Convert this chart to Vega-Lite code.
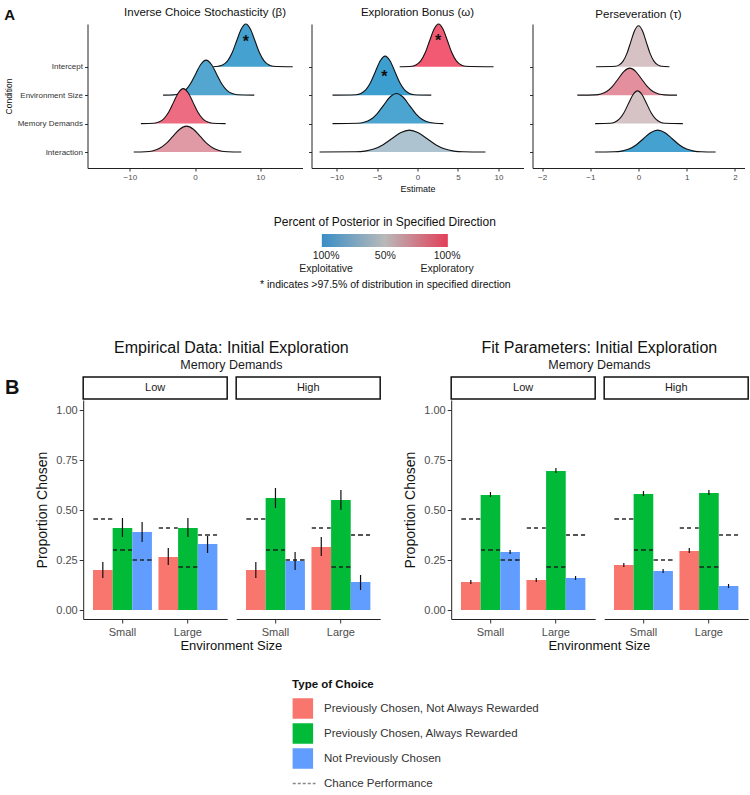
{
"$schema":"https://vega.github.io/schema/vega-lite/v6.json",
"padding":{"left":4,"top":7,"right":2,"bottom":2},
"config":{"font":"Liberation Sans","view":{"stroke":null},"axis":{"grid":false,"domainColor":"#222","tickColor":"#333"},"title":{"fontWeight":"normal","color":"#111"}},
"datasets":{
"ridges":[
{"p":"b","c":"I","d":-0.95,"x":2.8,"y":4},{"p":"b","c":"I","d":-0.95,"x":3.6,"y":4.017},{"p":"b","c":"I","d":-0.95,"x":4.3,"y":4.066},{"p":"b","c":"I","d":-0.95,"x":5.0,"y":4.203},{"p":"b","c":"I","d":-0.95,"x":5.7,"y":4.487},{"p":"b","c":"I","d":-0.95,"x":6.4,"y":4.91},{"p":"b","c":"I","d":-0.95,"x":7.1,"y":5.324},{"p":"b","c":"I","d":-0.95,"x":7.8,"y":5.5},{"p":"b","c":"I","d":-0.95,"x":8.5,"y":5.324},{"p":"b","c":"I","d":-0.95,"x":9.2,"y":4.91},{"p":"b","c":"I","d":-0.95,"x":9.9,"y":4.487},{"p":"b","c":"I","d":-0.95,"x":10.6,"y":4.203},{"p":"b","c":"I","d":-0.95,"x":11.3,"y":4.066},{"p":"b","c":"I","d":-0.95,"x":12.0,"y":4.017},{"p":"b","c":"I","d":-0.95,"x":15.0,"y":4},
{"p":"b","c":"E","d":-0.85,"x":-4.9,"y":3},{"p":"b","c":"E","d":-0.85,"x":-3.1,"y":3.014},{"p":"b","c":"E","d":-0.85,"x":-2.3,"y":3.054},{"p":"b","c":"E","d":-0.85,"x":-1.5,"y":3.166},{"p":"b","c":"E","d":-0.85,"x":-0.7,"y":3.4},{"p":"b","c":"E","d":-0.85,"x":0.1,"y":3.746},{"p":"b","c":"E","d":-0.85,"x":0.9,"y":4.086},{"p":"b","c":"E","d":-0.85,"x":1.7,"y":4.23},{"p":"b","c":"E","d":-0.85,"x":2.5,"y":4.086},{"p":"b","c":"E","d":-0.85,"x":3.3,"y":3.746},{"p":"b","c":"E","d":-0.85,"x":4.1,"y":3.4},{"p":"b","c":"E","d":-0.85,"x":4.9,"y":3.166},{"p":"b","c":"E","d":-0.85,"x":5.7,"y":3.054},{"p":"b","c":"E","d":-0.85,"x":6.5,"y":3.014},{"p":"b","c":"E","d":-0.85,"x":9.1,"y":3},
{"p":"b","c":"M","d":0.85,"x":-8.3,"y":2},{"p":"b","c":"M","d":0.85,"x":-6.3,"y":2.014},{"p":"b","c":"M","d":0.85,"x":-5.55,"y":2.054},{"p":"b","c":"M","d":0.85,"x":-4.8,"y":2.166},{"p":"b","c":"M","d":0.85,"x":-4.05,"y":2.4},{"p":"b","c":"M","d":0.85,"x":-3.3,"y":2.746},{"p":"b","c":"M","d":0.85,"x":-2.55,"y":3.086},{"p":"b","c":"M","d":0.85,"x":-1.8,"y":3.23},{"p":"b","c":"M","d":0.85,"x":-1.05,"y":3.086},{"p":"b","c":"M","d":0.85,"x":-0.3,"y":2.746},{"p":"b","c":"M","d":0.85,"x":0.45,"y":2.4},{"p":"b","c":"M","d":0.85,"x":1.2,"y":2.166},{"p":"b","c":"M","d":0.85,"x":1.95,"y":2.054},{"p":"b","c":"M","d":0.85,"x":2.7,"y":2.014},{"p":"b","c":"M","d":0.85,"x":4.7,"y":2},
{"p":"b","c":"X","d":0.45,"x":-9.4,"y":1},{"p":"b","c":"X","d":0.45,"x":-7.6,"y":1.01},{"p":"b","c":"X","d":0.45,"x":-6.55,"y":1.04},{"p":"b","c":"X","d":0.45,"x":-5.5,"y":1.123},{"p":"b","c":"X","d":0.45,"x":-4.45,"y":1.295},{"p":"b","c":"X","d":0.45,"x":-3.4,"y":1.552},{"p":"b","c":"X","d":0.45,"x":-2.35,"y":1.803},{"p":"b","c":"X","d":0.45,"x":-1.3,"y":1.91},{"p":"b","c":"X","d":0.45,"x":-0.25,"y":1.803},{"p":"b","c":"X","d":0.45,"x":0.8,"y":1.552},{"p":"b","c":"X","d":0.45,"x":1.85,"y":1.295},{"p":"b","c":"X","d":0.45,"x":2.9,"y":1.123},{"p":"b","c":"X","d":0.45,"x":3.95,"y":1.04},{"p":"b","c":"X","d":0.45,"x":5.0,"y":1.01},{"p":"b","c":"X","d":0.45,"x":7.1,"y":1},
{"p":"o","c":"I","d":1,"x":-2.2,"y":4},{"p":"o","c":"I","d":1,"x":-0.7,"y":4.017},{"p":"o","c":"I","d":1,"x":-0.15,"y":4.066},{"p":"o","c":"I","d":1,"x":0.4,"y":4.203},{"p":"o","c":"I","d":1,"x":0.95,"y":4.487},{"p":"o","c":"I","d":1,"x":1.5,"y":4.91},{"p":"o","c":"I","d":1,"x":2.05,"y":5.324},{"p":"o","c":"I","d":1,"x":2.6,"y":5.5},{"p":"o","c":"I","d":1,"x":3.15,"y":5.324},{"p":"o","c":"I","d":1,"x":3.7,"y":4.91},{"p":"o","c":"I","d":1,"x":4.25,"y":4.487},{"p":"o","c":"I","d":1,"x":4.8,"y":4.203},{"p":"o","c":"I","d":1,"x":5.35,"y":4.066},{"p":"o","c":"I","d":1,"x":5.9,"y":4.017},{"p":"o","c":"I","d":1,"x":9.4,"y":4},
{"p":"o","c":"E","d":-1,"x":-10.5,"y":3},{"p":"o","c":"E","d":-1,"x":-7.6,"y":3.015},{"p":"o","c":"E","d":-1,"x":-7.0,"y":3.06},{"p":"o","c":"E","d":-1,"x":-6.4,"y":3.185},{"p":"o","c":"E","d":-1,"x":-5.8,"y":3.445},{"p":"o","c":"E","d":-1,"x":-5.2,"y":3.831},{"p":"o","c":"E","d":-1,"x":-4.6,"y":4.209},{"p":"o","c":"E","d":-1,"x":-4.0,"y":4.37},{"p":"o","c":"E","d":-1,"x":-3.4,"y":4.209},{"p":"o","c":"E","d":-1,"x":-2.8,"y":3.831},{"p":"o","c":"E","d":-1,"x":-2.2,"y":3.445},{"p":"o","c":"E","d":-1,"x":-1.6,"y":3.185},{"p":"o","c":"E","d":-1,"x":-1.0,"y":3.06},{"p":"o","c":"E","d":-1,"x":-0.4,"y":3.015},{"p":"o","c":"E","d":-1,"x":1.7,"y":3},
{"p":"o","c":"M","d":-0.9,"x":-10.5,"y":2},{"p":"o","c":"M","d":-0.9,"x":-7.4,"y":2.012},{"p":"o","c":"M","d":-0.9,"x":-6.6,"y":2.047},{"p":"o","c":"M","d":-0.9,"x":-5.8,"y":2.143},{"p":"o","c":"M","d":-0.9,"x":-5.0,"y":2.344},{"p":"o","c":"M","d":-0.9,"x":-4.2,"y":2.643},{"p":"o","c":"M","d":-0.9,"x":-3.4,"y":2.935},{"p":"o","c":"M","d":-0.9,"x":-2.6,"y":3.06},{"p":"o","c":"M","d":-0.9,"x":-1.8,"y":2.935},{"p":"o","c":"M","d":-0.9,"x":-1.0,"y":2.643},{"p":"o","c":"M","d":-0.9,"x":-0.2,"y":2.344},{"p":"o","c":"M","d":-0.9,"x":0.6,"y":2.143},{"p":"o","c":"M","d":-0.9,"x":1.4,"y":2.047},{"p":"o","c":"M","d":-0.9,"x":2.2,"y":2.012},{"p":"o","c":"M","d":-0.9,"x":3.2,"y":2},
{"p":"o","c":"X","d":-0.25,"x":-12.1,"y":1},{"p":"o","c":"X","d":-0.25,"x":-7.6,"y":1.0085},{"p":"o","c":"X","d":-0.25,"x":-6.5,"y":1.034},{"p":"o","c":"X","d":-0.25,"x":-5.4,"y":1.104},{"p":"o","c":"X","d":-0.25,"x":-4.3,"y":1.25},{"p":"o","c":"X","d":-0.25,"x":-3.2,"y":1.467},{"p":"o","c":"X","d":-0.25,"x":-2.1,"y":1.68},{"p":"o","c":"X","d":-0.25,"x":-1.0,"y":1.77},{"p":"o","c":"X","d":-0.25,"x":0.1,"y":1.68},{"p":"o","c":"X","d":-0.25,"x":1.2,"y":1.467},{"p":"o","c":"X","d":-0.25,"x":2.3,"y":1.25},{"p":"o","c":"X","d":-0.25,"x":3.4,"y":1.104},{"p":"o","c":"X","d":-0.25,"x":4.5,"y":1.034},{"p":"o","c":"X","d":-0.25,"x":5.6,"y":1.0085},{"p":"o","c":"X","d":-0.25,"x":8.4,"y":1},
{"p":"t","c":"I","d":0.12,"x":-0.88,"y":4},{"p":"t","c":"I","d":0.12,"x":-0.48,"y":4.016},{"p":"t","c":"I","d":0.12,"x":-0.4,"y":4.063},{"p":"t","c":"I","d":0.12,"x":-0.32,"y":4.195},{"p":"t","c":"I","d":0.12,"x":-0.24,"y":4.468},{"p":"t","c":"I","d":0.12,"x":-0.16,"y":4.873},{"p":"t","c":"I","d":0.12,"x":-0.08,"y":5.271},{"p":"t","c":"I","d":0.12,"x":0,"y":5.44},{"p":"t","c":"I","d":0.12,"x":0.08,"y":5.271},{"p":"t","c":"I","d":0.12,"x":0.16,"y":4.873},{"p":"t","c":"I","d":0.12,"x":0.24,"y":4.468},{"p":"t","c":"I","d":0.12,"x":0.32,"y":4.195},{"p":"t","c":"I","d":0.12,"x":0.4,"y":4.063},{"p":"t","c":"I","d":0.12,"x":0.48,"y":4.016},{"p":"t","c":"I","d":0.12,"x":0.64,"y":4},
{"p":"t","c":"E","d":0.55,"x":-1.27,"y":3},{"p":"t","c":"E","d":0.55,"x":-0.9,"y":3.0105},{"p":"t","c":"E","d":0.55,"x":-0.78,"y":3.042},{"p":"t","c":"E","d":0.55,"x":-0.66,"y":3.129},{"p":"t","c":"E","d":0.55,"x":-0.54,"y":3.308},{"p":"t","c":"E","d":0.55,"x":-0.42,"y":3.576},{"p":"t","c":"E","d":0.55,"x":-0.3,"y":3.838},{"p":"t","c":"E","d":0.55,"x":-0.18,"y":3.95},{"p":"t","c":"E","d":0.55,"x":-0.06,"y":3.838},{"p":"t","c":"E","d":0.55,"x":0.06,"y":3.576},{"p":"t","c":"E","d":0.55,"x":0.18,"y":3.308},{"p":"t","c":"E","d":0.55,"x":0.3,"y":3.129},{"p":"t","c":"E","d":0.55,"x":0.42,"y":3.042},{"p":"t","c":"E","d":0.55,"x":0.54,"y":3.0105},{"p":"t","c":"E","d":0.55,"x":0.8,"y":3},
{"p":"t","c":"M","d":0.1,"x":-0.9,"y":2},{"p":"t","c":"M","d":0.1,"x":-0.59,"y":2.013},{"p":"t","c":"M","d":0.1,"x":-0.495,"y":2.05},{"p":"t","c":"M","d":0.1,"x":-0.4,"y":2.156},{"p":"t","c":"M","d":0.1,"x":-0.305,"y":2.373},{"p":"t","c":"M","d":0.1,"x":-0.21,"y":2.697},{"p":"t","c":"M","d":0.1,"x":-0.115,"y":3.015},{"p":"t","c":"M","d":0.1,"x":-0.02,"y":3.15},{"p":"t","c":"M","d":0.1,"x":0.075,"y":3.015},{"p":"t","c":"M","d":0.1,"x":0.17,"y":2.697},{"p":"t","c":"M","d":0.1,"x":0.265,"y":2.373},{"p":"t","c":"M","d":0.1,"x":0.36,"y":2.156},{"p":"t","c":"M","d":0.1,"x":0.455,"y":2.05},{"p":"t","c":"M","d":0.1,"x":0.55,"y":2.013},{"p":"t","c":"M","d":0.1,"x":0.92,"y":2},
{"p":"t","c":"X","d":-0.95,"x":-0.9,"y":1},{"p":"t","c":"X","d":-0.95,"x":-0.5,"y":1.0085},{"p":"t","c":"X","d":-0.95,"x":-0.35,"y":1.034},{"p":"t","c":"X","d":-0.95,"x":-0.2,"y":1.104},{"p":"t","c":"X","d":-0.95,"x":-0.05,"y":1.25},{"p":"t","c":"X","d":-0.95,"x":0.1,"y":1.467},{"p":"t","c":"X","d":-0.95,"x":0.25,"y":1.68},{"p":"t","c":"X","d":-0.95,"x":0.4,"y":1.77},{"p":"t","c":"X","d":-0.95,"x":0.55,"y":1.68},{"p":"t","c":"X","d":-0.95,"x":0.7,"y":1.467},{"p":"t","c":"X","d":-0.95,"x":0.85,"y":1.25},{"p":"t","c":"X","d":-0.95,"x":1.0,"y":1.104},{"p":"t","c":"X","d":-0.95,"x":1.15,"y":1.034},{"p":"t","c":"X","d":-0.95,"x":1.3,"y":1.0085},{"p":"t","c":"X","d":-0.95,"x":1.6,"y":1}
],
"stars":[{"p":"b","x":7.8,"y":5.02},{"p":"o","x":2.55,"y":5.03},{"p":"o","x":-4.1,"y":3.77}],
"bars":[
{"s":"emp","md":"Low","env":"Small","t":"PCNAR","v":0.20,"lo":0.16,"hi":0.24,"ch":0.455},
{"s":"emp","md":"Low","env":"Small","t":"PCAR","v":0.41,"lo":0.365,"hi":0.46,"ch":0.30},
{"s":"emp","md":"Low","env":"Small","t":"NPC","v":0.39,"lo":0.34,"hi":0.44,"ch":0.25},
{"s":"emp","md":"Low","env":"Large","t":"PCNAR","v":0.265,"lo":0.225,"hi":0.31,"ch":0.41},
{"s":"emp","md":"Low","env":"Large","t":"PCAR","v":0.41,"lo":0.365,"hi":0.46,"ch":0.215},
{"s":"emp","md":"Low","env":"Large","t":"NPC","v":0.33,"lo":0.285,"hi":0.37,"ch":0.375},
{"s":"emp","md":"High","env":"Small","t":"PCNAR","v":0.20,"lo":0.16,"hi":0.24,"ch":0.455},
{"s":"emp","md":"High","env":"Small","t":"PCAR","v":0.56,"lo":0.51,"hi":0.61,"ch":0.30},
{"s":"emp","md":"High","env":"Small","t":"NPC","v":0.245,"lo":0.20,"hi":0.29,"ch":0.25},
{"s":"emp","md":"High","env":"Large","t":"PCNAR","v":0.315,"lo":0.27,"hi":0.365,"ch":0.41},
{"s":"emp","md":"High","env":"Large","t":"PCAR","v":0.55,"lo":0.50,"hi":0.60,"ch":0.215},
{"s":"emp","md":"High","env":"Large","t":"NPC","v":0.14,"lo":0.10,"hi":0.175,"ch":0.375},
{"s":"fit","md":"Low","env":"Small","t":"PCNAR","v":0.14,"lo":0.13,"hi":0.15,"ch":0.455},
{"s":"fit","md":"Low","env":"Small","t":"PCAR","v":0.575,"lo":0.565,"hi":0.59,"ch":0.30},
{"s":"fit","md":"Low","env":"Small","t":"NPC","v":0.29,"lo":0.28,"hi":0.30,"ch":0.25},
{"s":"fit","md":"Low","env":"Large","t":"PCNAR","v":0.15,"lo":0.14,"hi":0.16,"ch":0.41},
{"s":"fit","md":"Low","env":"Large","t":"PCAR","v":0.695,"lo":0.685,"hi":0.71,"ch":0.215},
{"s":"fit","md":"Low","env":"Large","t":"NPC","v":0.16,"lo":0.15,"hi":0.17,"ch":0.375},
{"s":"fit","md":"High","env":"Small","t":"PCNAR","v":0.225,"lo":0.215,"hi":0.235,"ch":0.455},
{"s":"fit","md":"High","env":"Small","t":"PCAR","v":0.58,"lo":0.57,"hi":0.595,"ch":0.30},
{"s":"fit","md":"High","env":"Small","t":"NPC","v":0.195,"lo":0.185,"hi":0.205,"ch":0.25},
{"s":"fit","md":"High","env":"Large","t":"PCNAR","v":0.295,"lo":0.285,"hi":0.31,"ch":0.41},
{"s":"fit","md":"High","env":"Large","t":"PCAR","v":0.585,"lo":0.575,"hi":0.60,"ch":0.215},
{"s":"fit","md":"High","env":"Large","t":"NPC","v":0.12,"lo":0.11,"hi":0.13,"ch":0.375}
]
},
"spacing":49,
"center":true,
"vconcat":[
{
"title":{"text":"A","anchor":"start","fontSize":15,"fontWeight":"bold","offset":-16},
"spacing":23,
"center":true,
"vconcat":[
{"spacing":5,"hconcat":[
{"width":215,"height":144,
"title":{"text":"Inverse Choice Stochasticity (β)","frame":"group","dx":10,"fontSize":11.5,"offset":3},
"data":{"name":"ridges"},
"encoding":{
"x":{"field":"x","type":"quantitative","scale":{"domain":[-16.5,16.5],"nice":false,"zero":false},"axis":{"values":[-10,0,10],"title":null,"labelFontSize":8,"labelColor":"#4d4d4d","tickSize":3,"labelPadding":2}},
"y":{"field":"y","type":"quantitative","scale":{"domain":[0.44,5.5],"nice":false,"zero":false},"axis":{"values":[1,2,3,4],"labelExpr":"datum.value == 4 ? 'Intercept' : datum.value == 3 ? 'Environment  Size' : datum.value == 2 ? 'Memory Demands' : 'Interaction'","title":"Condition","titleFontSize":8.5,"titleFontWeight":"normal","titleColor":"#111","titlePadding":4,"labelFontSize":8,"labelColor":"#333","tickSize":3,"labelPadding":2}}
},
"layer":[
{"transform":[{"filter":"datum.p=='b'&&datum.c=='I'"}],"mark":{"type":"area","interpolate":"monotone","opacity":1},"encoding":{"y2":{"datum":4},"fill":{"field":"d","type":"quantitative","scale":{"domain":[-1,0,1],"range":["#3d9fd0","#d2cfcf","#f25a74"],"interpolate":"rgb"},"legend":null}}},
{"transform":[{"filter":"datum.p=='b'&&datum.c=='I'"}],"mark":{"type":"line","interpolate":"monotone","color":"#111","strokeWidth":1.1},"encoding":{}},
{"transform":[{"filter":"datum.p=='b'&&datum.c=='E'"}],"mark":{"type":"area","interpolate":"monotone","opacity":1},"encoding":{"y2":{"datum":3},"fill":{"field":"d","type":"quantitative","scale":{"domain":[-1,0,1],"range":["#3d9fd0","#d2cfcf","#f25a74"],"interpolate":"rgb"},"legend":null}}},
{"transform":[{"filter":"datum.p=='b'&&datum.c=='E'"}],"mark":{"type":"line","interpolate":"monotone","color":"#111","strokeWidth":1.1},"encoding":{}},
{"transform":[{"filter":"datum.p=='b'&&datum.c=='M'"}],"mark":{"type":"area","interpolate":"monotone","opacity":1},"encoding":{"y2":{"datum":2},"fill":{"field":"d","type":"quantitative","scale":{"domain":[-1,0,1],"range":["#3d9fd0","#d2cfcf","#f25a74"],"interpolate":"rgb"},"legend":null}}},
{"transform":[{"filter":"datum.p=='b'&&datum.c=='M'"}],"mark":{"type":"line","interpolate":"monotone","color":"#111","strokeWidth":1.1},"encoding":{}},
{"transform":[{"filter":"datum.p=='b'&&datum.c=='X'"}],"mark":{"type":"area","interpolate":"monotone","opacity":1},"encoding":{"y2":{"datum":1},"fill":{"field":"d","type":"quantitative","scale":{"domain":[-1,0,1],"range":["#3d9fd0","#d2cfcf","#f25a74"],"interpolate":"rgb"},"legend":null}}},
{"transform":[{"filter":"datum.p=='b'&&datum.c=='X'"}],"mark":{"type":"line","interpolate":"monotone","color":"#111","strokeWidth":1.1},"encoding":{}},
{"data":{"values":[{}]},"mark":{"type":"rule","color":"#111","strokeWidth":1.1},"encoding":{"x":{"datum":0},"y":{"datum":0.44},"y2":{"datum":5.5}}},
{"data":{"name":"stars"},"transform":[{"filter":"datum.p=='b'"}],"mark":{"type":"text","text":"*","fontSize":16,"fontWeight":"bold","color":"#111","baseline":"middle","dy":4},"encoding":{}}
]},
{"width":212,"height":144,
"title":{"text":"Exploration Bonus (ω)","frame":"group","fontSize":11.5,"offset":3},
"data":{"name":"ridges"},
"encoding":{
"x":{"field":"x","type":"quantitative","scale":{"domain":[-13.1,13.1],"nice":false,"zero":false},"axis":{"values":[-10,-5,0,5,10],"title":"Estimate","titleFontSize":9,"titleFontWeight":"normal","titleColor":"#111","titlePadding":3,"labelFontSize":8,"labelColor":"#4d4d4d","tickSize":3,"labelPadding":2}},
"y":{"field":"y","type":"quantitative","scale":{"domain":[0.44,5.5],"nice":false,"zero":false},"axis":{"values":[1,2,3,4],"labels":false,"title":null,"tickSize":3}}
},
"layer":[
{"transform":[{"filter":"datum.p=='o'&&datum.c=='I'"}],"mark":{"type":"area","interpolate":"monotone","opacity":1},"encoding":{"y2":{"datum":4},"fill":{"field":"d","type":"quantitative","scale":{"domain":[-1,0,1],"range":["#3d9fd0","#d2cfcf","#f25a74"],"interpolate":"rgb"},"legend":null}}},
{"transform":[{"filter":"datum.p=='o'&&datum.c=='I'"}],"mark":{"type":"line","interpolate":"monotone","color":"#111","strokeWidth":1.1},"encoding":{}},
{"transform":[{"filter":"datum.p=='o'&&datum.c=='E'"}],"mark":{"type":"area","interpolate":"monotone","opacity":1},"encoding":{"y2":{"datum":3},"fill":{"field":"d","type":"quantitative","scale":{"domain":[-1,0,1],"range":["#3d9fd0","#d2cfcf","#f25a74"],"interpolate":"rgb"},"legend":null}}},
{"transform":[{"filter":"datum.p=='o'&&datum.c=='E'"}],"mark":{"type":"line","interpolate":"monotone","color":"#111","strokeWidth":1.1},"encoding":{}},
{"transform":[{"filter":"datum.p=='o'&&datum.c=='M'"}],"mark":{"type":"area","interpolate":"monotone","opacity":1},"encoding":{"y2":{"datum":2},"fill":{"field":"d","type":"quantitative","scale":{"domain":[-1,0,1],"range":["#3d9fd0","#d2cfcf","#f25a74"],"interpolate":"rgb"},"legend":null}}},
{"transform":[{"filter":"datum.p=='o'&&datum.c=='M'"}],"mark":{"type":"line","interpolate":"monotone","color":"#111","strokeWidth":1.1},"encoding":{}},
{"transform":[{"filter":"datum.p=='o'&&datum.c=='X'"}],"mark":{"type":"area","interpolate":"monotone","opacity":1},"encoding":{"y2":{"datum":1},"fill":{"field":"d","type":"quantitative","scale":{"domain":[-1,0,1],"range":["#3d9fd0","#d2cfcf","#f25a74"],"interpolate":"rgb"},"legend":null}}},
{"transform":[{"filter":"datum.p=='o'&&datum.c=='X'"}],"mark":{"type":"line","interpolate":"monotone","color":"#111","strokeWidth":1.1},"encoding":{}},
{"data":{"values":[{}]},"mark":{"type":"rule","color":"#111","strokeWidth":1.1},"encoding":{"x":{"datum":0},"y":{"datum":0.44},"y2":{"datum":5.5}}},
{"data":{"name":"stars"},"transform":[{"filter":"datum.p=='o'"}],"mark":{"type":"text","text":"*","fontSize":16,"fontWeight":"bold","color":"#111","baseline":"middle","dy":4},"encoding":{}}
]},
{"width":212,"height":144,
"title":{"text":"Perseveration (τ)","frame":"group","fontSize":11.5,"offset":3},
"data":{"name":"ridges"},
"encoding":{
"x":{"field":"x","type":"quantitative","scale":{"domain":[-2.2,2.2],"nice":false,"zero":false},"axis":{"values":[-2,-1,0,1,2],"title":null,"labelFontSize":8,"labelColor":"#4d4d4d","tickSize":3,"labelPadding":2}},
"y":{"field":"y","type":"quantitative","scale":{"domain":[0.44,5.5],"nice":false,"zero":false},"axis":{"values":[1,2,3,4],"labels":false,"title":null,"tickSize":3}}
},
"layer":[
{"transform":[{"filter":"datum.p=='t'&&datum.c=='I'"}],"mark":{"type":"area","interpolate":"monotone","opacity":1},"encoding":{"y2":{"datum":4},"fill":{"field":"d","type":"quantitative","scale":{"domain":[-1,0,1],"range":["#3d9fd0","#d2cfcf","#f25a74"],"interpolate":"rgb"},"legend":null}}},
{"transform":[{"filter":"datum.p=='t'&&datum.c=='I'"}],"mark":{"type":"line","interpolate":"monotone","color":"#111","strokeWidth":1.1},"encoding":{}},
{"transform":[{"filter":"datum.p=='t'&&datum.c=='E'"}],"mark":{"type":"area","interpolate":"monotone","opacity":1},"encoding":{"y2":{"datum":3},"fill":{"field":"d","type":"quantitative","scale":{"domain":[-1,0,1],"range":["#3d9fd0","#d2cfcf","#f25a74"],"interpolate":"rgb"},"legend":null}}},
{"transform":[{"filter":"datum.p=='t'&&datum.c=='E'"}],"mark":{"type":"line","interpolate":"monotone","color":"#111","strokeWidth":1.1},"encoding":{}},
{"transform":[{"filter":"datum.p=='t'&&datum.c=='M'"}],"mark":{"type":"area","interpolate":"monotone","opacity":1},"encoding":{"y2":{"datum":2},"fill":{"field":"d","type":"quantitative","scale":{"domain":[-1,0,1],"range":["#3d9fd0","#d2cfcf","#f25a74"],"interpolate":"rgb"},"legend":null}}},
{"transform":[{"filter":"datum.p=='t'&&datum.c=='M'"}],"mark":{"type":"line","interpolate":"monotone","color":"#111","strokeWidth":1.1},"encoding":{}},
{"transform":[{"filter":"datum.p=='t'&&datum.c=='X'"}],"mark":{"type":"area","interpolate":"monotone","opacity":1},"encoding":{"y2":{"datum":1},"fill":{"field":"d","type":"quantitative","scale":{"domain":[-1,0,1],"range":["#3d9fd0","#d2cfcf","#f25a74"],"interpolate":"rgb"},"legend":null}}},
{"transform":[{"filter":"datum.p=='t'&&datum.c=='X'"}],"mark":{"type":"line","interpolate":"monotone","color":"#111","strokeWidth":1.1},"encoding":{}},
{"data":{"values":[{}]},"mark":{"type":"rule","color":"#111","strokeWidth":1.1},"encoding":{"x":{"datum":0},"y":{"datum":0.44},"y2":{"datum":5.5}}}
]}
]},
{"width":126,"height":13,
"title":{"text":"Percent of Posterior in Specified Direction","fontSize":12,"offset":5},
"data":{"values":[{}]},
"mark":{"type":"rect","fill":{"gradient":"linear","x1":0,"y1":0,"x2":1,"y2":0,"stops":[{"offset":0,"color":"#3a8ec6"},{"offset":0.5,"color":"#b9b9b9"},{"offset":1,"color":"#e23f58"}]}},
"encoding":{
"x":{"datum":0,"type":"quantitative","scale":{"domain":[0,1],"nice":false},"axis":{"values":[0.03,0.5,0.99],"labelExpr":"datum.value < 0.3 ? ['100%','Exploitative'] : datum.value > 0.7 ? ['100%','Exploratory'] : '50%'","ticks":false,"domain":false,"labelFontSize":10.5,"labelColor":"#222","labelPadding":3,"labelFlush":false,"labelOverlap":false,"labelBound":false,"labelLineHeight":13,"title":"* indicates >97.5% of distribution in specified direction","titleFontSize":10.5,"titleFontWeight":"normal","titleColor":"#111","titlePadding":6}},
"x2":{"datum":1},
"y":{"datum":0,"type":"quantitative","scale":{"domain":[0,1]},"axis":null},
"y2":{"datum":1}
}}
]
},
{
"spacing":25,
"center":true,
"vconcat":[
{"title":{"text":"B","orient":"left","angle":0,"anchor":"end","align":"right","baseline":"top","fontSize":20,"fontWeight":"bold","offset":2,"dy":38},
"spacing":22,
"hconcat":[
{"title":{"text":"Empirical Data: Initial Exploration","subtitle":"Memory Demands","fontSize":16,"subtitleFontSize":12.5,"subtitleColor":"#1a1a1a","subtitlePadding":3,"offset":5,"anchor":"middle","dx":23},
"vconcat":[
{"title":{"text":"Environment Size","orient":"bottom","fontSize":13,"anchor":"middle","dx":23,"offset":3},
"columns":2,"align":"each","spacing":{"row":0,"column":7},
"concat":[
{"width":144,"height":22,"view":{"stroke":"#111","strokeWidth":1.5},"data":{"values":[{"md":"Low"}]},"mark":{"type":"text","fontSize":11,"color":"#1a1a1a"},"encoding":{"text":{"field":"md"}}},
{"width":144,"height":22,"view":{"stroke":"#111","strokeWidth":1.5},"data":{"values":[{"md":"High"}]},"mark":{"type":"text","fontSize":11,"color":"#1a1a1a"},"encoding":{"text":{"field":"md"}}},
{"width":144,"height":219,"data":{"name":"bars"},"transform":[{"filter":"datum.s=='emp'&&datum.md=='Low'"}],
"encoding":{"x":{"field":"env","type":"nominal","sort":["Small","Large"],"scale":{"paddingInner":0.1,"paddingOuter":0.15},"axis":{"title":null,"labelAngle":0,"labelFontSize":11,"labelColor":"#4d4d4d","tickSize":4,"labelPadding":3}},
"xOffset":{"field":"t","type":"nominal","sort":["PCNAR","PCAR","NPC"],"scale":{"paddingInner":0,"paddingOuter":0}}},
"layer":[
{"mark":{"type":"bar"},"encoding":{"y":{"field":"v","type":"quantitative","title":"Proportion Chosen","scale":{"domain":[-0.045,1.05],"nice":false,"zero":false},"axis":{"values":[0,0.25,0.5,0.75,1],"format":".2f","labelFontSize":11,"labelColor":"#4d4d4d","tickSize":4,"titleFontSize":14,"titleFontWeight":"normal","titleColor":"#111","titlePadding":6}},"fill":{"field":"t","type":"nominal","scale":{"domain":["PCNAR","PCAR","NPC"],"range":["#F8766D","#00BA38","#619CFF"]},"legend":null}}},
{"mark":{"type":"rule","color":"#111","strokeWidth":1.2},"encoding":{"y":{"field":"lo","type":"quantitative","title":"Proportion Chosen"},"y2":{"field":"hi"}}},
{"mark":{"type":"tick","orient":"horizontal","thickness":1.4,"size":19,"opacity":1,"fill":{"gradient":"linear","x1":0,"y1":0,"x2":1,"y2":0,"stops":[{"offset":0,"color":"#1a1a1a"},{"offset":0.22,"color":"#1a1a1a"},{"offset":0.22,"color":"rgba(0,0,0,0)"},{"offset":0.39,"color":"rgba(0,0,0,0)"},{"offset":0.39,"color":"#1a1a1a"},{"offset":0.61,"color":"#1a1a1a"},{"offset":0.61,"color":"rgba(0,0,0,0)"},{"offset":0.78,"color":"rgba(0,0,0,0)"},{"offset":0.78,"color":"#1a1a1a"},{"offset":1,"color":"#1a1a1a"}]}},"encoding":{"y":{"field":"ch","type":"quantitative","title":"Proportion Chosen"}}}
]},
{"width":144,"height":219,"data":{"name":"bars"},"transform":[{"filter":"datum.s=='emp'&&datum.md=='High'"}],
"encoding":{"x":{"field":"env","type":"nominal","sort":["Small","Large"],"scale":{"paddingInner":0.1,"paddingOuter":0.15},"axis":{"title":null,"labelAngle":0,"labelFontSize":11,"labelColor":"#4d4d4d","tickSize":4,"labelPadding":3}},
"xOffset":{"field":"t","type":"nominal","sort":["PCNAR","PCAR","NPC"],"scale":{"paddingInner":0,"paddingOuter":0}}},
"layer":[
{"mark":{"type":"bar"},"encoding":{"y":{"field":"v","type":"quantitative","scale":{"domain":[-0.045,1.05],"nice":false,"zero":false},"axis":null},"fill":{"field":"t","type":"nominal","scale":{"domain":["PCNAR","PCAR","NPC"],"range":["#F8766D","#00BA38","#619CFF"]},"legend":null}}},
{"mark":{"type":"rule","color":"#111","strokeWidth":1.2},"encoding":{"y":{"field":"lo","type":"quantitative","axis":null},"y2":{"field":"hi"}}},
{"mark":{"type":"tick","orient":"horizontal","thickness":1.4,"size":19,"opacity":1,"fill":{"gradient":"linear","x1":0,"y1":0,"x2":1,"y2":0,"stops":[{"offset":0,"color":"#1a1a1a"},{"offset":0.22,"color":"#1a1a1a"},{"offset":0.22,"color":"rgba(0,0,0,0)"},{"offset":0.39,"color":"rgba(0,0,0,0)"},{"offset":0.39,"color":"#1a1a1a"},{"offset":0.61,"color":"#1a1a1a"},{"offset":0.61,"color":"rgba(0,0,0,0)"},{"offset":0.78,"color":"rgba(0,0,0,0)"},{"offset":0.78,"color":"#1a1a1a"},{"offset":1,"color":"#1a1a1a"}]}},"encoding":{"y":{"field":"ch","type":"quantitative","axis":null}}}
]}
]}
]},
{"title":{"text":"Fit Parameters: Initial Exploration","subtitle":"Memory Demands","fontSize":16,"subtitleFontSize":12.5,"subtitleColor":"#1a1a1a","subtitlePadding":3,"offset":5,"anchor":"middle","dx":23},
"vconcat":[
{"title":{"text":"Environment Size","orient":"bottom","fontSize":13,"anchor":"middle","dx":23,"offset":3},
"columns":2,"align":"each","spacing":{"row":0,"column":7},
"concat":[
{"width":144,"height":22,"view":{"stroke":"#111","strokeWidth":1.5},"data":{"values":[{"md":"Low"}]},"mark":{"type":"text","fontSize":11,"color":"#1a1a1a"},"encoding":{"text":{"field":"md"}}},
{"width":144,"height":22,"view":{"stroke":"#111","strokeWidth":1.5},"data":{"values":[{"md":"High"}]},"mark":{"type":"text","fontSize":11,"color":"#1a1a1a"},"encoding":{"text":{"field":"md"}}},
{"width":144,"height":219,"data":{"name":"bars"},"transform":[{"filter":"datum.s=='fit'&&datum.md=='Low'"}],
"encoding":{"x":{"field":"env","type":"nominal","sort":["Small","Large"],"scale":{"paddingInner":0.1,"paddingOuter":0.15},"axis":{"title":null,"labelAngle":0,"labelFontSize":11,"labelColor":"#4d4d4d","tickSize":4,"labelPadding":3}},
"xOffset":{"field":"t","type":"nominal","sort":["PCNAR","PCAR","NPC"],"scale":{"paddingInner":0,"paddingOuter":0}}},
"layer":[
{"mark":{"type":"bar"},"encoding":{"y":{"field":"v","type":"quantitative","title":"Proportion Chosen","scale":{"domain":[-0.045,1.05],"nice":false,"zero":false},"axis":{"values":[0,0.25,0.5,0.75,1],"format":".2f","labelFontSize":11,"labelColor":"#4d4d4d","tickSize":4,"titleFontSize":14,"titleFontWeight":"normal","titleColor":"#111","titlePadding":6}},"fill":{"field":"t","type":"nominal","scale":{"domain":["PCNAR","PCAR","NPC"],"range":["#F8766D","#00BA38","#619CFF"]},"legend":null}}},
{"mark":{"type":"rule","color":"#111","strokeWidth":1.2},"encoding":{"y":{"field":"lo","type":"quantitative","title":"Proportion Chosen"},"y2":{"field":"hi"}}},
{"mark":{"type":"tick","orient":"horizontal","thickness":1.4,"size":19,"opacity":1,"fill":{"gradient":"linear","x1":0,"y1":0,"x2":1,"y2":0,"stops":[{"offset":0,"color":"#1a1a1a"},{"offset":0.22,"color":"#1a1a1a"},{"offset":0.22,"color":"rgba(0,0,0,0)"},{"offset":0.39,"color":"rgba(0,0,0,0)"},{"offset":0.39,"color":"#1a1a1a"},{"offset":0.61,"color":"#1a1a1a"},{"offset":0.61,"color":"rgba(0,0,0,0)"},{"offset":0.78,"color":"rgba(0,0,0,0)"},{"offset":0.78,"color":"#1a1a1a"},{"offset":1,"color":"#1a1a1a"}]}},"encoding":{"y":{"field":"ch","type":"quantitative","title":"Proportion Chosen"}}}
]},
{"width":144,"height":219,"data":{"name":"bars"},"transform":[{"filter":"datum.s=='fit'&&datum.md=='High'"}],
"encoding":{"x":{"field":"env","type":"nominal","sort":["Small","Large"],"scale":{"paddingInner":0.1,"paddingOuter":0.15},"axis":{"title":null,"labelAngle":0,"labelFontSize":11,"labelColor":"#4d4d4d","tickSize":4,"labelPadding":3}},
"xOffset":{"field":"t","type":"nominal","sort":["PCNAR","PCAR","NPC"],"scale":{"paddingInner":0,"paddingOuter":0}}},
"layer":[
{"mark":{"type":"bar"},"encoding":{"y":{"field":"v","type":"quantitative","scale":{"domain":[-0.045,1.05],"nice":false,"zero":false},"axis":null},"fill":{"field":"t","type":"nominal","scale":{"domain":["PCNAR","PCAR","NPC"],"range":["#F8766D","#00BA38","#619CFF"]},"legend":null}}},
{"mark":{"type":"rule","color":"#111","strokeWidth":1.2},"encoding":{"y":{"field":"lo","type":"quantitative","axis":null},"y2":{"field":"hi"}}},
{"mark":{"type":"tick","orient":"horizontal","thickness":1.4,"size":19,"opacity":1,"fill":{"gradient":"linear","x1":0,"y1":0,"x2":1,"y2":0,"stops":[{"offset":0,"color":"#1a1a1a"},{"offset":0.22,"color":"#1a1a1a"},{"offset":0.22,"color":"rgba(0,0,0,0)"},{"offset":0.39,"color":"rgba(0,0,0,0)"},{"offset":0.39,"color":"#1a1a1a"},{"offset":0.61,"color":"#1a1a1a"},{"offset":0.61,"color":"rgba(0,0,0,0)"},{"offset":0.78,"color":"rgba(0,0,0,0)"},{"offset":0.78,"color":"#1a1a1a"},{"offset":1,"color":"#1a1a1a"}]}},"encoding":{"y":{"field":"ch","type":"quantitative","axis":null}}}
]}
]}
]}
]},
{"width":240,"height":100,
"title":{"text":"Type of Choice","fontWeight":"bold","fontSize":11.5,"anchor":"start","offset":6},
"data":{"values":[{"item":"Previously Chosen, Not Always Rewarded","kind":"fill"},{"item":"Previously Chosen, Always Rewarded","kind":"fill"},{"item":"Not Previously Chosen","kind":"fill"},{"item":"Chance Performance","kind":"line"}]},
"encoding":{"y":{"field":"item","type":"nominal","sort":null,"scale":{"paddingInner":0,"paddingOuter":0},"axis":null}},
"layer":[
{"transform":[{"filter":"datum.kind=='fill'"}],"mark":{"type":"square","size":420,"opacity":1},"encoding":{"x":{"datum":0.42,"type":"quantitative","scale":{"domain":[0,10],"nice":false},"axis":null},"fill":{"field":"item","type":"nominal","scale":{"domain":["Previously Chosen, Not Always Rewarded","Previously Chosen, Always Rewarded","Not Previously Chosen"],"range":["#F8766D","#00BA38","#619CFF"]},"legend":null}}},
{"mark":{"type":"text","align":"left","fontSize":11.5,"color":"#333"},"encoding":{"x":{"datum":1.3,"type":"quantitative"},"text":{"field":"item"}}},
{"transform":[{"filter":"datum.kind=='line'"}],"mark":{"type":"rule","strokeDash":[3,2],"color":"#888","strokeWidth":1.3},"encoding":{"x":{"datum":0,"type":"quantitative"},"x2":{"datum":0.95}}}
]}
]}
]
}
